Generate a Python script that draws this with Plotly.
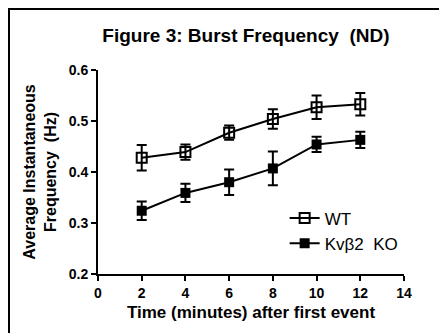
import plotly.graph_objects as go

time_min = [2, 4, 6, 8, 10, 12]
wt_mean = [0.428, 0.439, 0.477, 0.504, 0.527, 0.533]
wt_err = [0.025, 0.015, 0.014, 0.019, 0.023, 0.022]
ko_mean = [0.324, 0.359, 0.380, 0.407, 0.454, 0.463]
ko_err = [0.018, 0.018, 0.025, 0.033, 0.015, 0.016]
x_ticks = [0, 2, 4, 6, 8, 10, 12, 14]
y_ticks = [0.2, 0.3, 0.4, 0.5, 0.6]

FONT = "Arial, Liberation Sans, sans-serif"

# The page body has an 8px margin, so the figure is offset by 8px.
W, H = 439, 325
L, T = 90, 62
PW, PH = 306, 204

fig = go.Figure()
fig.add_trace(go.Scatter(
    x=time_min, y=wt_mean, name="WT", mode="lines+markers",
    line=dict(color="black", width=2),
    marker=dict(symbol="square-open", size=10, color="black", line=dict(width=2, color="black")),
    error_y=dict(type="data", array=wt_err, color="black", thickness=2, width=5),
    cliponaxis=False,
))
fig.add_trace(go.Scatter(
    x=time_min, y=ko_mean, name="Kvβ2  KO", mode="lines+markers",
    line=dict(color="black", width=2),
    marker=dict(symbol="square", size=10, color="black"),
    error_y=dict(type="data", array=ko_err, color="black", thickness=2, width=5),
    cliponaxis=False,
))

fig.update_layout(
    width=W, height=H,
    margin=dict(l=L, r=W - L - PW, t=T, b=H - T - PH, autoexpand=False),
    paper_bgcolor="white", plot_bgcolor="white",
    font=dict(family=FONT, color="black"),
    title=dict(text="<b>Figure 3: Burst Frequency  (ND)</b>", x=0.542, xanchor="center",
               y=0.917, yanchor="middle", font=dict(size=19, family=FONT, color="black")),
    showlegend=True,
    legend=dict(x=0.61, y=0.36, xanchor="left", yanchor="top", bgcolor="rgba(0,0,0,0)",
                font=dict(size=17, family=FONT, color="black"), tracegroupgap=4,
                itemwidth=30),
    xaxis=dict(range=[0, 14], tickvals=x_ticks, ticktext=[f"<b>{v}</b>" for v in x_ticks],
               automargin=False,
               showgrid=False, zeroline=False, showline=True, linecolor="black", linewidth=2,
               ticks="outside", ticklen=5, tickwidth=2, tickcolor="black",
               tickfont=dict(size=14, family=FONT, color="black"),
               title=dict(text="<b>Time (minutes) after first event</b>", standoff=6,
                          font=dict(size=17, family=FONT, color="black"))),
    yaxis=dict(range=[0.2, 0.6], tickvals=y_ticks, ticktext=[f"<b>{v:.1f}</b>" for v in y_ticks],
               automargin=False,
               showgrid=False, zeroline=False, showline=True, linecolor="black", linewidth=2,
               ticks="outside", ticklen=5, tickwidth=2, tickcolor="black",
               tickfont=dict(size=14, family=FONT, color="black"),
               title=dict(text="<b>Average Instantaneous<br>Frequency  (Hz)</b>", standoff=8,
                          font=dict(size=16, family=FONT, color="black"))),
)

# outer frame (extends past right and bottom edges like the reference)
fig.add_shape(type="rect", xref="paper", yref="paper",
              x0=(1 - L) / PW, x1=(W + 20 - L) / PW,
              y0=(PH - (H + 20 - T)) / PH, y1=(PH + T - 1) / PH,
              line=dict(color="black", width=2), fillcolor="rgba(0,0,0,0)", layer="below")

fig.write_html("out.html")
